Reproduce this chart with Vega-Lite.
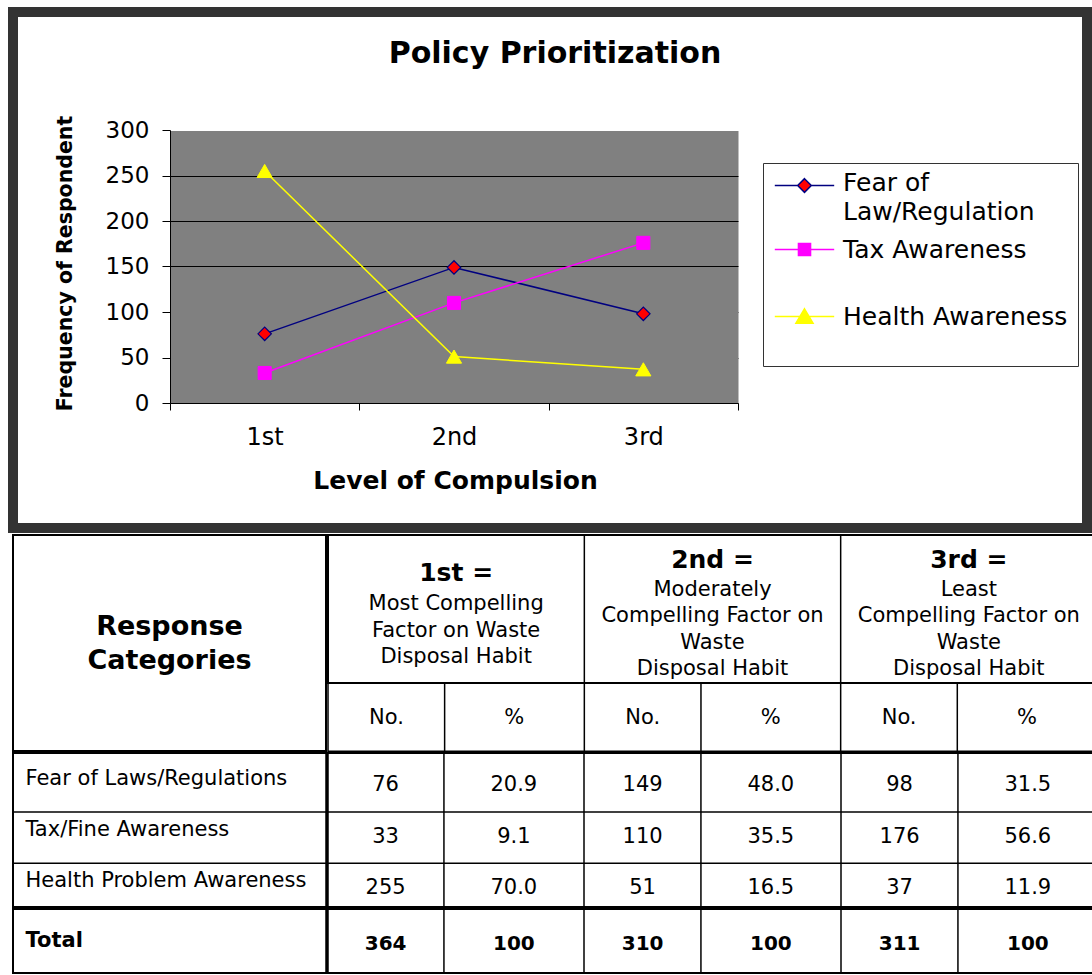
{
  "$schema": "https://vega.github.io/schema/vega-lite/v6.json",
  "padding": {"left": 8, "top": 7, "right": 0, "bottom": 0},
  "background": "white",
  "spacing": 1,
  "config": {
    "font": "DejaVu Sans",
    "view": {"stroke": null},
    "axis": {"labelFont": "DejaVu Sans", "titleFont": "DejaVu Sans", "labelColor": "black", "titleColor": "black"},
    "legend": {"labelFont": "DejaVu Sans", "titleFont": "DejaVu Sans"}
  },
  "datasets": {
    "responses": [
      {"category": "Fear of Laws/Regulations", "series": "Fear of Law/Regulation", "level": "1st", "no": 76, "pct": 20.9},
      {"category": "Fear of Laws/Regulations", "series": "Fear of Law/Regulation", "level": "2nd", "no": 149, "pct": 48.0},
      {"category": "Fear of Laws/Regulations", "series": "Fear of Law/Regulation", "level": "3rd", "no": 98, "pct": 31.5},
      {"category": "Tax/Fine Awareness", "series": "Tax Awareness", "level": "1st", "no": 33, "pct": 9.1},
      {"category": "Tax/Fine Awareness", "series": "Tax Awareness", "level": "2nd", "no": 110, "pct": 35.5},
      {"category": "Tax/Fine Awareness", "series": "Tax Awareness", "level": "3rd", "no": 176, "pct": 56.6},
      {"category": "Health Problem Awareness", "series": "Health Awareness", "level": "1st", "no": 255, "pct": 70.0},
      {"category": "Health Problem Awareness", "series": "Health Awareness", "level": "2nd", "no": 51, "pct": 16.5},
      {"category": "Health Problem Awareness", "series": "Health Awareness", "level": "3rd", "no": 37, "pct": 11.9}
    ],
    "totals": [
      {"category": "Total", "level": "1st", "no": 364, "pct": 100},
      {"category": "Total", "level": "2nd", "no": 310, "pct": 100},
      {"category": "Total", "level": "3rd", "no": 311, "pct": 100}
    ],
    "levels": [
      {"level": "1st", "heading": "1st =", "desc": ["Most Compelling", "Factor on Waste", "Disposal Habit"]},
      {"level": "2nd", "heading": "2nd =", "desc": ["Moderately", "Compelling Factor on", "Waste", "Disposal Habit"]},
      {"level": "3rd", "heading": "3rd =", "desc": ["Least", "Compelling Factor on", "Waste", "Disposal Habit"]}
    ]
  },
  "vconcat": [
    {
      "width": 1074,
      "height": 516,
      "view": {"stroke": "#333333", "strokeWidth": 10},
      "title": {"text": "Policy Prioritization", "fontSize": 30, "fontWeight": "bold", "color": "black", "anchor": "middle", "offset": -57, "dx": 5},
      "data": {"name": "responses"},
      "encoding": {
        "x": {
          "field": "level", "type": "nominal", "bandPosition": 0.5,
          "scale": {"type": "band", "domain": ["1st", "2nd", "3rd"], "range": [157, 725], "paddingInner": 0, "paddingOuter": 0},
          "axis": {
            "orient": "bottom", "offset": -125, "labelAngle": 0, "zindex": 1,
            "ticks": true, "tickBand": "extent", "tickSize": 7, "tickColor": "black",
            "domain": true, "domainColor": "black", "domainWidth": 1, "grid": false,
            "labelFontSize": 24, "labelPadding": 27, "labelBaseline": "middle",
            "title": "Level of Compulsion", "titleFontSize": 25, "titleFontWeight": "bold",
            "titleX": 442, "titleY": 77, "titleBaseline": "middle", "titleAlign": "center"
          }
        },
        "y": {
          "field": "no", "type": "quantitative",
          "scale": {"domain": [0, 300], "range": [391, 118], "nice": false, "zero": true},
          "axis": {
            "orient": "left", "offset": -157, "zindex": 0,
            "values": [150, 0, 50, 100, 150.0001, 200, 250, 300], "format": "d",
            "grid": true,
            "gridColor": {"condition": {"test": "datum.value === 150", "value": "#808080"}, "value": "black"},
            "gridWidth": {"condition": {"test": "datum.value === 150", "value": 273}, "value": 1},
            "gridOpacity": {"condition": {"test": "datum.value === 300", "value": 0}, "value": 1},
            "labelOpacity": {"condition": {"test": "datum.value === 150", "value": 0}, "value": 1},
            "tickOpacity": {"condition": {"test": "datum.value === 150", "value": 0}, "value": 1},
            "ticks": true, "tickSize": 8, "tickColor": "black", "domainColor": "black",
            "labelFontSize": 23, "labelPadding": 13, "labelOverlap": false,
            "title": "Frequency of Respondent", "titleFontSize": 20.5, "titleFontWeight": "bold",
            "titleX": -105, "titleY": 251, "titleAngle": -90, "titleBaseline": "middle", "titleAlign": "center"
          }
        }
      },
      "layer": [
        {
          "mark": {"type": "line", "strokeWidth": 1.5},
          "encoding": {
            "stroke": {
              "field": "series", "type": "nominal",
              "scale": {"domain": ["Fear of Law/Regulation", "Tax Awareness", "Health Awareness"], "range": ["#000080", "#FF00FF", "#FFFF00"]},
              "legend": {
                "orient": "none", "legendX": 750, "legendY": 151,
                "title": " ", "titleOrient": "bottom", "titleFontSize": 18, "titlePadding": 8,
                "strokeColor": "#333333", "fillColor": "white", "padding": 10,
                "labelFontSize": 25, "labelColor": "black", "labelLimit": 0,
                "labelOffset": 26, "symbolOffset": 19, "symbolSize": 484, "symbolStrokeWidth": 1.5,
                "rowPadding": 12,
                "labelExpr": "datum.label === 'Fear of Law/Regulation' ? ['Fear of', 'Law/Regulation'] : datum.label === 'Tax Awareness' ? ['Tax Awareness', ''] : datum.label",
                "encode": {
                  "symbols": {"update": {"shape": {"signal": "datum.value === 'Fear of Law/Regulation' ? 'M-2.7,0L-0.62,0M0.62,0L2.7,0M0,-0.62L0.62,0L0,0.62L-0.62,0Z' : datum.value === 'Tax Awareness' ? 'M-2.7,0L2.7,0M-0.55,-0.55L0.55,-0.55L0.55,0.55L-0.55,0.55Z' : 'M-2.7,0L2.7,0M0,-0.7L0.78,0.62L-0.78,0.62Z'"}}},
                  "labels": {"update": {"dy": {"signal": "datum.value === 'Fear of Law/Regulation' ? -3 : 0"}, "lineHeight": {"value": 29}}}
                }
              }
            }
          }
        },
        {
          "encoding": {
            "stroke": {
              "field": "series", "type": "nominal",
              "legend": {
                "orient": "none", "legendX": 750, "legendY": 151,
                "title": " ", "titleOrient": "bottom", "titleFontSize": 18, "titlePadding": 8,
                "strokeColor": "#333333", "fillColor": "white", "padding": 10,
                "labelFontSize": 25, "labelColor": "black", "labelLimit": 0,
                "labelOffset": 26, "symbolOffset": 19, "symbolSize": 484, "symbolStrokeWidth": 1.5,
                "rowPadding": 12,
                "labelExpr": "datum.label === 'Fear of Law/Regulation' ? ['Fear of', 'Law/Regulation'] : datum.label === 'Tax Awareness' ? ['Tax Awareness', ''] : datum.label",
                "encode": {
                  "symbols": {"update": {"shape": {"signal": "datum.value === 'Fear of Law/Regulation' ? 'M-2.7,0L-0.62,0M0.62,0L2.7,0M0,-0.62L0.62,0L0,0.62L-0.62,0Z' : datum.value === 'Tax Awareness' ? 'M-2.7,0L2.7,0M-0.55,-0.55L0.55,-0.55L0.55,0.55L-0.55,0.55Z' : 'M-2.7,0L2.7,0M0,-0.7L0.78,0.62L-0.78,0.62Z'"}}},
                  "labels": {"update": {"dy": {"signal": "datum.value === 'Fear of Law/Regulation' ? -3 : 0"}, "lineHeight": {"value": 29}}}
                }
              }
            },
            "fill": {
              "field": "series", "type": "nominal",
              "scale": {"domain": ["Fear of Law/Regulation", "Tax Awareness", "Health Awareness"], "range": ["#FF0000", "#FF00FF", "#FFFF00"]},
              "legend": {
                "orient": "none", "legendX": 750, "legendY": 151,
                "title": " ", "titleOrient": "bottom", "titleFontSize": 18, "titlePadding": 8,
                "strokeColor": "#333333", "fillColor": "white", "padding": 10,
                "labelFontSize": 25, "labelColor": "black", "labelLimit": 0,
                "labelOffset": 26, "symbolOffset": 19, "symbolSize": 484, "symbolStrokeWidth": 1.5,
                "rowPadding": 12,
                "labelExpr": "datum.label === 'Fear of Law/Regulation' ? ['Fear of', 'Law/Regulation'] : datum.label === 'Tax Awareness' ? ['Tax Awareness', ''] : datum.label",
                "encode": {
                  "symbols": {"update": {"shape": {"signal": "datum.value === 'Fear of Law/Regulation' ? 'M-2.7,0L-0.62,0M0.62,0L2.7,0M0,-0.62L0.62,0L0,0.62L-0.62,0Z' : datum.value === 'Tax Awareness' ? 'M-2.7,0L2.7,0M-0.55,-0.55L0.55,-0.55L0.55,0.55L-0.55,0.55Z' : 'M-2.7,0L2.7,0M0,-0.7L0.78,0.62L-0.78,0.62Z'"}}},
                  "labels": {"update": {"dy": {"signal": "datum.value === 'Fear of Law/Regulation' ? -3 : 0"}, "lineHeight": {"value": 29}}}
                }
              }
            }
          },
          "layer": [
            {
              "transform": [{"filter": "datum.series === 'Fear of Law/Regulation'"}],
              "mark": {"type": "point", "shape": "diamond", "filled": true, "opacity": 1, "size": 180, "strokeWidth": 1.2}
            },
            {
              "transform": [{"filter": "datum.series === 'Tax Awareness'"}],
              "mark": {"type": "point", "shape": "square", "filled": true, "opacity": 1, "size": 170, "strokeWidth": 1}
            },
            {
              "transform": [{"filter": "datum.series === 'Health Awareness'"}],
              "mark": {"type": "point", "shape": "triangle-up", "filled": true, "opacity": 1, "size": 230, "strokeWidth": 1}
            }
          ]
        }
      ]
    },
    {
      "spacing": 0,
      "vconcat": [
        {
          "spacing": 0,
          "hconcat": [
            {
              "width": 313,
              "height": 216,
              "view": {"stroke": "black", "strokeWidth": 2},
              "data": {"values": [{}]},
              "mark": {"type": "text", "fontSize": 27, "fontWeight": "bold", "lineHeight": 34, "color": "black", "baseline": "middle", "dy": -16},
              "encoding": {"text": {"value": ["Response", "Categories"]}}
            },
            {
              "spacing": 0,
              "bounds": "flush",
              "vconcat": [
                {
                  "width": 767,
                  "height": 148,
                  "view": {"stroke": "black", "strokeWidth": 2},
                  "data": {"name": "levels"},
                  "layer": [
                    {
                      "transform": [{"filter": "datum.level !== '1st'"}],
                      "mark": {"type": "rule", "color": "black", "strokeWidth": 1.5, "clip": true},
                      "encoding": {
                        "x": {
                          "field": "level", "type": "nominal", "bandPosition": 0,
                          "scale": {"type": "band", "domain": ["1st", "2nd", "3rd"], "range": [0, 769], "paddingInner": 0, "paddingOuter": 0},
                          "axis": null
                        }
                      }
                    },
                    {
                      "transform": [{"filter": "datum.level === '1st'"}],
                      "mark": {"type": "text", "fontSize": 21, "lineHeight": 26.5, "color": "black", "baseline": "middle", "dy": -5},
                      "encoding": {
                        "x": {"field": "level", "type": "nominal", "bandPosition": 0.5},
                        "text": {"field": "desc", "type": "nominal"}
                      }
                    },
                    {
                      "transform": [{"filter": "datum.level !== '1st'"}],
                      "mark": {"type": "text", "fontSize": 21, "lineHeight": 26.5, "color": "black", "baseline": "middle", "dy": -19.5},
                      "encoding": {
                        "x": {"field": "level", "type": "nominal", "bandPosition": 0.5},
                        "text": {"field": "desc", "type": "nominal"}
                      }
                    },
                    {
                      "transform": [{"filter": "datum.level === '1st'"}],
                      "mark": {"type": "text", "fontSize": 25, "fontWeight": "bold", "color": "black", "baseline": "middle", "dy": -36},
                      "encoding": {
                        "x": {"field": "level", "type": "nominal", "bandPosition": 0.5},
                        "text": {"field": "heading", "type": "nominal"}
                      }
                    },
                    {
                      "transform": [{"filter": "datum.level !== '1st'"}],
                      "mark": {"type": "text", "fontSize": 25, "fontWeight": "bold", "color": "black", "baseline": "middle", "dy": -49},
                      "encoding": {
                        "x": {"field": "level", "type": "nominal", "bandPosition": 0.5},
                        "text": {"field": "heading", "type": "nominal"}
                      }
                    }
                  ]
                },
                {
                  "width": 767,
                  "height": 68.25,
                  "view": {"stroke": "black", "strokeWidth": 1.5},
                  "data": {"name": "levels"},
                  "layer": [
                    {
                      "transform": [{"filter": "datum.level !== '1st'"}],
                      "mark": {"type": "rule", "color": "black", "strokeWidth": 1.5, "clip": true},
                      "encoding": {
                        "x": {
                          "field": "level", "type": "nominal", "bandPosition": 0,
                          "scale": {"type": "band", "domain": ["1st", "2nd", "3rd"], "range": [0, 769], "paddingInner": 0, "paddingOuter": 0},
                          "axis": null
                        }
                      }
                    },
                    {
                      "mark": {"type": "rule", "color": "black", "strokeWidth": 1.5, "clip": true},
                      "encoding": {"x": {"field": "level", "type": "nominal", "bandPosition": 0.455}}
                    },
                    {
                      "mark": {"type": "text", "fontSize": 21, "color": "black", "baseline": "middle", "dy": 1},
                      "encoding": {"x": {"field": "level", "type": "nominal", "bandPosition": 0.228}, "text": {"value": "No."}}
                    },
                    {
                      "mark": {"type": "text", "fontSize": 21, "color": "black", "baseline": "middle", "dy": 1},
                      "encoding": {"x": {"field": "level", "type": "nominal", "bandPosition": 0.727}, "text": {"value": "%"}}
                    }
                  ]
                }
              ]
            }
          ]
        },
        {
          "width": 1082,
          "height": 154,
          "view": {"stroke": "black", "strokeWidth": 2},
          "data": {"name": "responses"},
          "layer": [
            {
              "data": {"name": "levels"},
              "mark": {"type": "rule", "color": "black", "clip": true},
              "encoding": {
                "x": {
                  "field": "level", "type": "nominal", "bandPosition": 0,
                  "scale": {"type": "band", "domain": ["1st", "2nd", "3rd"], "range": [314, 1085], "paddingInner": 0, "paddingOuter": 0},
                  "axis": null
                },
                "strokeWidth": {"condition": {"test": "datum.level === '1st'", "value": 3.5}, "value": 1.5}
              }
            },
            {
              "data": {"name": "levels"},
              "mark": {"type": "rule", "color": "black", "strokeWidth": 1.5, "clip": true},
              "encoding": {"x": {"field": "level", "type": "nominal", "bandPosition": 0.455}}
            },
            {
              "transform": [{"filter": "datum.level === '1st' && datum.category !== 'Fear of Laws/Regulations'"}],
              "mark": {"type": "rule", "color": "black", "strokeWidth": 1.5, "clip": true},
              "encoding": {
                "y": {
                  "field": "category", "type": "nominal", "bandPosition": 0.15,
                  "scale": {"type": "band", "domain": ["Fear of Laws/Regulations", "Tax/Fine Awareness", "Health Problem Awareness"], "paddingInner": 0, "paddingOuter": 0},
                  "axis": {"orient": "left", "offset": -12, "bandPosition": 0.71, "labelAlign": "left", "labelPadding": 0, "ticks": false, "domain": false, "grid": false, "title": null, "labelFontSize": 21, "labelLimit": 0, "labelBaseline": "middle", "labelOverlap": false}
                }
              }
            },
            {
              "mark": {"type": "text", "fontSize": 21, "color": "black", "baseline": "middle"},
              "encoding": {
                "x": {"field": "level", "type": "nominal", "bandPosition": 0.228},
                "y": {"field": "category", "type": "nominal", "bandPosition": 0.63},
                "text": {"field": "no", "type": "quantitative"}
              }
            },
            {
              "mark": {"type": "text", "fontSize": 21, "color": "black", "baseline": "middle"},
              "encoding": {
                "x": {"field": "level", "type": "nominal", "bandPosition": 0.727},
                "y": {"field": "category", "type": "nominal", "bandPosition": 0.63},
                "text": {"field": "pct", "type": "quantitative", "format": ".1f"}
              }
            }
          ]
        },
        {
          "width": 1082,
          "height": 64,
          "view": {"stroke": "black", "strokeWidth": 2},
          "data": {"name": "totals"},
          "layer": [
            {
              "data": {"name": "levels"},
              "mark": {"type": "rule", "color": "black", "clip": true},
              "encoding": {
                "x": {
                  "field": "level", "type": "nominal", "bandPosition": 0,
                  "scale": {"type": "band", "domain": ["1st", "2nd", "3rd"], "range": [314, 1085], "paddingInner": 0, "paddingOuter": 0},
                  "axis": null
                },
                "strokeWidth": {"condition": {"test": "datum.level === '1st'", "value": 3.5}, "value": 1.5}
              }
            },
            {
              "data": {"name": "levels"},
              "mark": {"type": "rule", "color": "black", "strokeWidth": 1.5, "clip": true},
              "encoding": {"x": {"field": "level", "type": "nominal", "bandPosition": 0.455}}
            },
            {
              "mark": {"type": "text", "fontSize": 20, "fontWeight": "bold", "color": "black", "baseline": "middle"},
              "encoding": {
                "x": {"field": "level", "type": "nominal", "bandPosition": 0.228},
                "y": {
                  "field": "category", "type": "nominal", "bandPosition": 0.55,
                  "scale": {"type": "band", "paddingInner": 0, "paddingOuter": 0},
                  "axis": {"orient": "left", "offset": -12, "bandPosition": 0.6, "labelAlign": "left", "labelPadding": 0, "ticks": false, "domain": false, "grid": false, "title": null, "labelFontSize": 21, "labelFontWeight": "bold", "labelLimit": 0, "labelBaseline": "middle"}
                },
                "text": {"field": "no", "type": "quantitative"}
              }
            },
            {
              "mark": {"type": "text", "fontSize": 20, "fontWeight": "bold", "color": "black", "baseline": "middle"},
              "encoding": {
                "x": {"field": "level", "type": "nominal", "bandPosition": 0.727},
                "y": {"field": "category", "type": "nominal", "bandPosition": 0.55},
                "text": {"field": "pct", "type": "quantitative"}
              }
            }
          ]
        }
      ]
    }
  ]
}
